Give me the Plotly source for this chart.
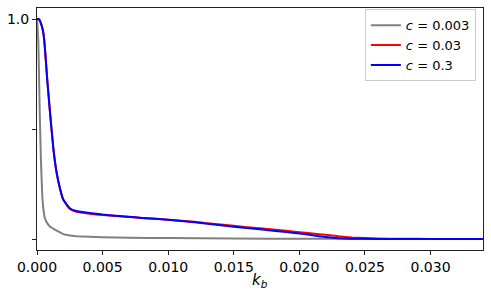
import plotly.graph_objects as go

k_gray = [0, 0.0001, 0.0002, 0.0003, 0.0004, 0.0005, 0.0006, 0.0008, 0.001, 0.0013, 0.0016,
          0.002, 0.0025, 0.003, 0.004, 0.005, 0.007, 0.010, 0.015, 0.020, 0.025, 0.034]
v_gray = [1.0, 0.9, 0.6, 0.36, 0.2, 0.13, 0.095, 0.07, 0.056, 0.045, 0.035,
          0.022, 0.016, 0.013, 0.010, 0.008, 0.006, 0.004, 0.002, 0.001, 0.0005, 0.0]

k_blue = [0, 0.0001, 0.0002, 0.0003, 0.0004, 0.0005, 0.0006, 0.0007, 0.0008, 0.0009, 0.001,
          0.00125, 0.0015, 0.00175, 0.002, 0.0025, 0.003, 0.004, 0.005, 0.006, 0.007, 0.008,
          0.010, 0.012, 0.014, 0.016, 0.018, 0.020, 0.021, 0.022, 0.023, 0.024, 0.026, 0.030, 0.034]
v_blue = [1.0, 1.0, 0.995, 0.98, 0.96, 0.93, 0.87, 0.79, 0.71, 0.64, 0.57,
          0.41, 0.30, 0.23, 0.18, 0.14, 0.127, 0.118, 0.111, 0.106, 0.101, 0.096,
          0.087, 0.076, 0.062, 0.050, 0.038, 0.025, 0.017, 0.009, 0.003, 0.001, 0.0005, 0.0002, 0.0]

k_red = [0, 0.0001, 0.0002, 0.0003, 0.0004, 0.0005, 0.0006, 0.0007, 0.0008, 0.0009, 0.001,
         0.00125, 0.0015, 0.00175, 0.002, 0.0025, 0.003, 0.004, 0.005, 0.006, 0.007, 0.008,
         0.010, 0.012, 0.014, 0.016, 0.018, 0.020, 0.021, 0.022, 0.023, 0.024, 0.025, 0.026,
         0.028, 0.030, 0.034]
v_red = [1.0, 1.0, 0.995, 0.98, 0.96, 0.93, 0.87, 0.79, 0.71, 0.64, 0.57,
         0.41, 0.30, 0.23, 0.178, 0.137, 0.124, 0.115, 0.109, 0.105, 0.100, 0.096,
         0.088, 0.078, 0.066, 0.054, 0.043, 0.031, 0.025, 0.019, 0.012, 0.007, 0.004, 0.002,
         0.001, 0.0005, 0.0]

names = ["<i>c</i> = 0.003", "<i>c</i> = 0.03", "<i>c</i> = 0.3"]
colors = ["#808080", "#ff0000", "#0000ff"]

y_tickvals = [0, 0.5, 1.0]
y_ticktext = ["", "", "1.0"]
x_tickvals = [0, 0.005, 0.010, 0.015, 0.020, 0.025, 0.030]
x_ticktext = ["0.000", "0.005", "0.010", "0.015", "0.020", "0.025", "0.030"]
x_title = "<i>k<sub>b</sub></i>"

fig = go.Figure()
for kx, vy, nm, col in [(k_gray, v_gray, names[0], colors[0]),
                        (k_red, v_red, names[1], colors[1]),
                        (k_blue, v_blue, names[2], colors[2])]:
    fig.add_trace(go.Scatter(x=kx, y=vy, mode="lines", name=nm,
                             line=dict(color=col, width=2, shape="spline", smoothing=0.4)))

axis_common = dict(showline=True, linecolor="#222222", linewidth=1, mirror=True,
                   ticks="outside", ticklen=4, tickcolor="#222222", tickwidth=1,
                   showgrid=False, zeroline=False,
                   tickfont=dict(family="DejaVu Sans", size=14, color="black"))

fig.update_layout(
    width=491, height=294,
    margin=dict(l=33, r=8, t=7, b=44),
    paper_bgcolor="white", plot_bgcolor="white",
    font=dict(family="DejaVu Sans", size=13, color="black"),
    xaxis=dict(range=[0, 0.034], tickvals=x_tickvals, ticktext=x_ticktext,
               **axis_common),
    yaxis=dict(range=[-0.05, 1.05], tickvals=y_tickvals, ticktext=y_ticktext,
               **axis_common),
    legend=dict(x=0.984, y=0.995, xanchor="right", yanchor="top",
                bgcolor="white", bordercolor="#cccccc", borderwidth=1,
                font=dict(family="DejaVu Sans", size=13)),
    showlegend=True,
    annotations=[dict(text=x_title, xref="paper", yref="paper", x=0.5, y=-0.125,
                      xanchor="center", yanchor="middle", showarrow=False,
                      font=dict(family="DejaVu Sans", size=15, color="black"))],
)

fig.write_html("out.html", config={"displayModeBar": False},
               post_script="document.body.style.margin='0px';")
